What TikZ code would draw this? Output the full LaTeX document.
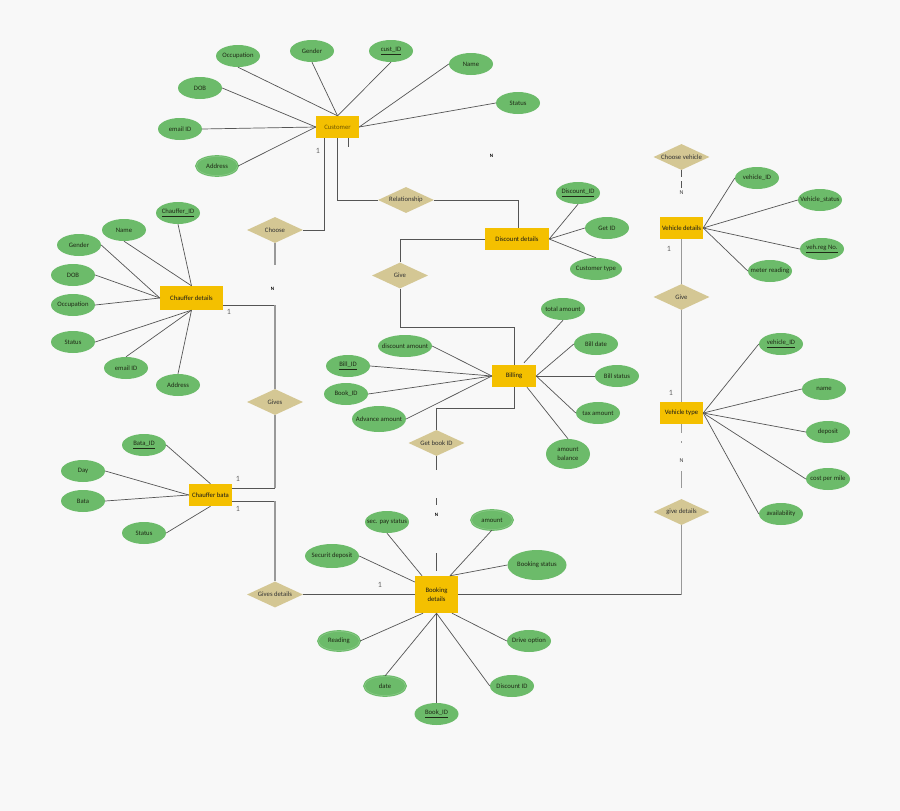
\documentclass[tikz,border=0pt]{standalone}
\usepackage{fontspec}
\setmainfont{Carlito}
\usetikzlibrary{shapes.geometric}
\definecolor{bgc}{HTML}{F8F8F8}
\definecolor{attrc}{HTML}{6CBB6A}
\definecolor{attrl}{HTML}{8CCB8A}
\definecolor{entc}{HTML}{F4C000}
\definecolor{relc}{HTML}{D4C794}
\definecolor{linec}{HTML}{555555}
\definecolor{greyc}{HTML}{999999}
\definecolor{txtc}{HTML}{1F2A16}
\tikzset{
  attr/.style={ellipse,fill=attrc,minimum width=44pt,minimum height=22pt,inner xsep=-16pt,inner ysep=-6pt,align=center,text=txtc,font=\fontsize{6.7}{8.2}\selectfont},
  attrwide/.style={attr,minimum width=54pt,minimum height=24pt},
  attrdbl/.style={attr,draw=attrc,double=attrl,line width=1.1pt,double distance=.5pt,minimum width=41pt,minimum height=19pt},
  entity/.style={rectangle,fill=entc,inner sep=0pt,align=center,text=black!90,font=\fontsize{6.7}{8.4}\selectfont},
  relation/.style={diamond,fill=relc,minimum width=56pt,minimum height=26pt,inner xsep=-14pt,inner ysep=-4pt,text=black!80,font=\fontsize{6.7}{8.2}\selectfont},
  link/.style={draw=linec,line width=.7pt},
  wire/.style={draw=linec,line width=.9pt},
  greywire/.style={draw=greyc,line width=1.2pt},
  card/.style={inner sep=0pt,text=black!60,font=\fontsize{8}{9}\selectfont},
  many/.style={inner sep=0pt,text=black,font=\fontsize{5}{6}\bfseries\selectfont},
  manyg/.style={inner sep=0pt,text=black!75,font=\fontsize{6}{7}\selectfont}
}
\begin{document}
\begin{tikzpicture}[x=1pt,y=-1pt]
\useasboundingbox (0,0) rectangle (900,811);
\fill[bgc] (0,0) rectangle (900,811);

% entities
\node[entity,minimum width=43pt,minimum height=22pt,text=black!55!entc] (cust) at (337.5,127) {Customer};
\node[entity,minimum width=64pt,minimum height=22pt] (disc) at (517,239) {Discount details};
\node[entity,minimum width=63pt,minimum height=24pt] (chauf) at (191.5,298) {Chauffer details};
\node[entity,minimum width=44pt,minimum height=22pt] (bill) at (514,376) {Billing};
\node[entity,minimum width=43pt,minimum height=22pt] (vdet) at (681.5,228) {Vehicle details};
\node[entity,minimum width=43pt,minimum height=22pt] (vtype) at (681.5,413) {Vehicle type};
\node[entity,minimum width=43pt,minimum height=22pt] (bata) at (210.5,495) {Chauffer bata};
\node[entity,minimum width=43pt,minimum height=37pt] (book) at (436.5,594.5) {Booking\\details};

% relationships
\node[relation] (choose) at (275,230) {Choose};
\node[relation] (rel) at (406,200) {Relationship};
\node[relation] (give) at (400,275.5) {Give};
\node[relation] (getbook) at (436.5,443) {Get book ID};
\node[relation] (gives) at (275,402) {Gives};
\node[relation] (gdet) at (275,594.5) {Gives details};
\node[relation] (cveh) at (681.5,157) {Choose vehicle};
\node[relation] (vgive) at (681.5,297) {Give};
\node[relation] (gived) at (681.5,512) {give details};

% customer attributes
\node[attr] (cOcc) at (238,56) {Occupation};
\node[attr] (cGen) at (312,51) {Gender};
\node[attr] (cId) at (391,51) {\underline{cust\_ID}};
\node[attr] (cName) at (471,64) {Name};
\node[attr] (cStat) at (518,103) {Status};
\node[attr] (cDob) at (200,88) {DOB};
\node[attr] (cMail) at (180,129) {email ID};
\node[attrdbl] (cAddr) at (217,166) {Address};

% discount attributes
\node[attr] (dId) at (578,193) {\underline{Discount\_ID}};
\node[attr] (dGet) at (607,228) {Get ID};
\node[attr,minimum width=52pt] (dType) at (596,269) {Customer type};

% chauffer attributes
\node[attr] (hId) at (178,213) {\underline{Chauffer\_ID}};
\node[attr] (hName) at (124,230) {Name};
\node[attr] (hGen) at (79,245) {Gender};
\node[attr] (hDob) at (73,275) {DOB};
\node[attr] (hOcc) at (73,305) {Occupation};
\node[attr] (hStat) at (73,342) {Status};
\node[attr] (hMail) at (126,368) {email ID};
\node[attr] (hAddr) at (178,385) {Address};

% billing attributes
\node[attr] (bTot) at (563,309) {total amount};
\node[attr] (bDate) at (596,344) {Bill date};
\node[attr] (bStat) at (617,376) {Bill status};
\node[attr] (bTax) at (598,413) {tax amount};
\node[attr,minimum height=30pt] (bBal) at (568,454) {amount\\balance};
\node[attrwide,minimum height=22pt] (bDisc) at (405,346) {discount amount};
\node[attr] (bId) at (348,366) {\underline{Bill\_ID}};
\node[attr] (bBook) at (346,394) {Book\_ID};
\node[attrwide,minimum height=26pt] (bAdv) at (379,419) {Advance amount};

% vehicle details attributes
\node[attr] (vId) at (757,178) {vehicle\_ID};
\node[attr] (vStat) at (820,200) {Vehicle\_status};
\node[attr] (vReg) at (822,249) {\underline{veh.reg No.}};
\node[attr] (vMeter) at (770,271) {meter reading};

% vehicle type attributes
\node[attr] (tId) at (781,344) {\underline{vehicle\_ID}};
\node[attr] (tName) at (824,389) {name};
\node[attr] (tDep) at (828,432) {deposit};
\node[attr] (tCost) at (828,479) {cost per mile};
\node[attr] (tAvail) at (781,514) {availability};

% bata attributes
\node[attr] (aId) at (144,445) {\underline{Bata\_ID}};
\node[attr] (aDay) at (83,471) {Day};
\node[attr] (aBata) at (83,501) {Bata};
\node[attr] (aStat) at (144,533) {Status};

% booking attributes
\node[attr] (kPay) at (387,522) {sec. pay status};
\node[attrdbl] (kAmt) at (492,520) {amount};
\node[attr,minimum width=59pt,minimum height=30pt] (kStat) at (537,565) {Booking status};
\node[attrwide] (kSec) at (332,556) {Securit deposit};
\node[attrdbl] (kRead) at (339,641) {Reading};
\node[attrdbl] (kDate) at (385,686) {date};
\node[attr] (kId) at (436.5,714) {\underline{Book\_ID}};
\node[attr] (kDisc) at (512,686) {Discount ID};
\node[attr] (kDrive) at (529,641) {Drive option};

% attribute links
\path[link] (cOcc.south) -- (cust.north);
\path[link] (cGen.south) -- (cust.north);
\path[link] (cId.south) -- (cust.north);
\path[link] (cName.west) -- (cust.east);
\path[link] (cStat.west) -- (cust.east);
\path[link] (cDob.east) -- (cust.west);
\path[link] (cMail.east) -- (cust.west);
\path[link] (cAddr.east) -- (cust.west);

\path[link] (dId.south) -- (disc.east);
\path[link] (dGet.west) -- (disc.east);
\path[link] (dType.north) -- (disc.east);

\path[link] (hId.south) -- (chauf.north);
\path[link] (hName.south) -- (chauf.north);
\path[link] (hGen.east) -- (chauf.west);
\path[link] (hDob.east) -- (chauf.west);
\path[link] (hOcc.east) -- (chauf.west);
\path[link] (hStat.east) -- (chauf.south);
\path[link] (hMail.north) -- (chauf.south);
\path[link] (hAddr.north) -- (chauf.south);

\path[link] (bTot.south) -- ([xshift=10pt,yshift=2pt]bill.north);
\path[link] (bDate.west) -- (bill.east);
\path[link] (bStat.west) -- (bill.east);
\path[link] (bTax.west) -- (bill.east);
\path[link] (bBal.north) -- ([xshift=13pt]bill.south);
\path[link] (bDisc.east) -- (bill.west);
\path[link] (bId.east) -- (bill.west);
\path[link] (bBook.east) -- (bill.west);
\path[link] (bAdv.east) -- (bill.west);

\path[link] (vId.west) -- (vdet.east);
\path[link] (vStat.west) -- (vdet.east);
\path[link] (vReg.west) -- (vdet.east);
\path[link] (vMeter.west) -- (vdet.east);

\path[link] (tId.west) -- (vtype.east);
\path[link] (tName.west) -- (vtype.east);
\path[link] (tDep.west) -- (vtype.east);
\path[link] (tCost.west) -- (vtype.east);
\path[link] (tAvail.west) -- (vtype.east);

\path[link] (aId.east) -- (bata.north);
\path[link] (aDay.east) -- (bata.west);
\path[link] (aBata.east) -- (bata.west);
\path[link] (aStat.east) -- (bata.south);

\path[link] (kPay.south) -- ([xshift=-14.5pt]book.north);
\path[link] (kAmt.south) -- ([xshift=13.5pt]book.north);
\path[link] (kStat.west) -- ([xshift=13.5pt]book.north);
\path[link] (kSec.east) -- ([yshift=12.5pt]book.west);
\path[link] (kRead.east) -- ([xshift=-13.5pt]book.south);
\path[link] (kDate.north) -- (book.south);
\path[link] (kId.north) -- (book.south);
\path[link] (kDisc.west) -- (book.south);
\path[link] (kDrive.west) -- ([xshift=15.5pt]book.south);

% relationship connectors
\path[wire] ([xshift=-13pt]cust.south) |- (choose.east);
\path[wire] (cust.south) |- (rel.west);
\path[wire] (rel.east) -| ([xshift=1.5pt]disc.north);
\path[wire] (disc.west) -| (give.north);
\path[wire] (give.south) -- ++(0,39) -| (bill.north);
\path[wire] (bill.south) -- ++(0,21) -| (getbook.north);

\coordinate (chaufOut) at ([yshift=-7pt]chauf.east);
\coordinate (bataUp) at ([yshift=7pt]bata.east);
\coordinate (bataDown) at ([yshift=-6pt]bata.east);
\path[wire] (chaufOut) -- (chaufOut -| gives.north);
\path[greywire] (chaufOut -| gives.north) -- (gives.north);
\path[greywire] (gives.south) -- (bataUp -| gives.south);
\path[wire] (bataUp -| gives.south) -- (bataUp);
\path[wire] (bataDown) -- (bataDown -| gdet.north);
\path[greywire] (bataDown -| gdet.north) -- (gdet.north);
\path[wire] (gdet.east) -- (book.west);
\path[wire] (book.east) -- (book.east -| gived.south);
\path[greywire] (book.east -| gived.south) -- (gived.south);
\path[greywire] (vdet.south) -- (vgive.north);
\path[greywire] (vgive.south) -- (vtype.north);

% broken stubs
\coordinate (custEnd) at (348,147);
\path[link] (cust.south -| custEnd) -- (custEnd);
\coordinate (chooseEnd) at (275,265);
\path[greywire] (choose.south) -- (chooseEnd);
\coordinate (cvA) at (681.5,177);
\coordinate (cvB) at (681.5,181);
\coordinate (cvC) at (681.5,188);
\path[link] (cveh.south) -- (cvA);
\path[link] (cvB) -- (cvC);
\coordinate (vtA) at (681.5,433);
\coordinate (vtB) at (681.5,441);
\coordinate (vtC) at (681.5,443);
\coordinate (vtD) at (681.5,471);
\coordinate (vtE) at (681.5,488);
\path[greywire] (vtype.south) -- (vtA);
\path[greywire] (vtB) -- (vtC);
\path[greywire] (vtD) -- (vtE);
\coordinate (gbA) at (436.5,470);
\coordinate (gbB) at (436.5,498);
\coordinate (gbC) at (436.5,505);
\coordinate (gbD) at (436.5,553);
\coordinate (gbE) at (436.5,571);
\path[link] (getbook.south) -- (gbA);
\path[link] (gbB) -- (gbC);
\path[link] (gbD) -- (gbE);

% cardinalities
\node[card] (c1) at (318,151) {1};
\node[card] (c2) at (229,312) {1};
\node[card] (c3) at (669,249) {1};
\node[card] (c4) at (671,393) {1};
\node[card] (c5) at (238,479) {1};
\node[card] (c6) at (238,509) {1};
\node[card] (c7) at (380,585) {1};
\node[many] (n1) at (491.5,156) {N};
\node[many] (n2) at (272.5,289) {N};
\node[manyg] (n3) at (681.5,193) {N};
\node[manyg] (n4) at (681.5,461) {N};
\node[many] (n5) at (436.5,515) {N};
\end{tikzpicture}
\end{document}
